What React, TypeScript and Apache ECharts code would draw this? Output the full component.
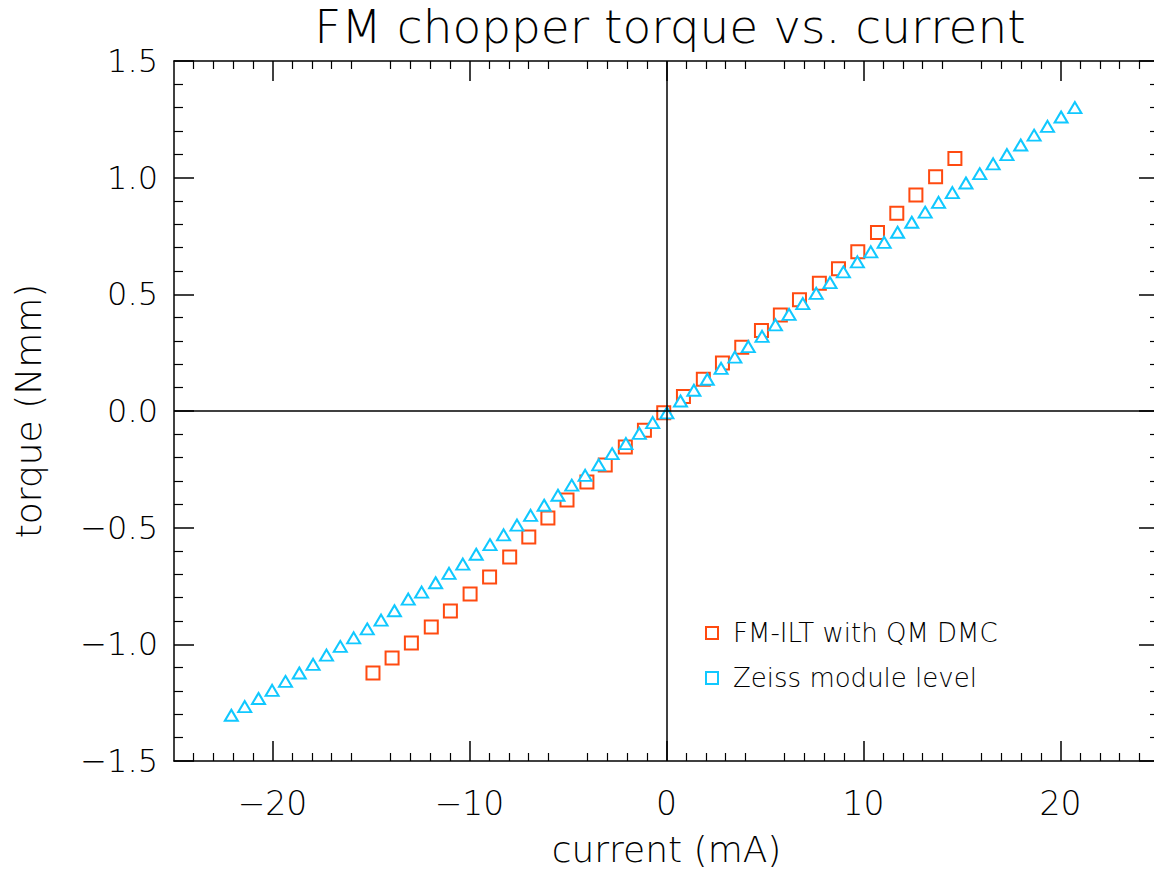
import React, { useEffect, useRef } from "react";
import * as echarts from "echarts";

const fmCurrent = [-14.9, -13.93, -12.95, -11.94, -10.97, -9.97, -8.98, -7.96, -6.99, -6.02, -5.05, -4.04, -3.11, -2.09, -1.12, -0.14, 0.86, 1.87, 2.84, 3.82, 4.82, 5.78, 6.75, 7.76, 8.73, 9.71, 10.71, 11.69, 12.66, 13.66, 14.64];
const fmTorque = [-1.123, -1.059, -0.994, -0.926, -0.857, -0.784, -0.711, -0.626, -0.54, -0.459, -0.381, -0.304, -0.231, -0.154, -0.083, -0.007, 0.062, 0.136, 0.206, 0.273, 0.345, 0.411, 0.477, 0.548, 0.61, 0.683, 0.765, 0.848, 0.926, 1.004, 1.082];

const zeissCurrent = [-22.09, -21.41, -20.71, -20.02, -19.34, -18.64, -17.94, -17.26, -16.56, -15.88, -15.19, -14.49, -13.81, -13.11, -12.43, -11.72, -11.04, -10.34, -9.66, -8.96, -8.27, -7.59, -6.9, -6.21, -5.51, -4.81, -4.13, -3.44, -2.76, -2.06, -1.38, -0.7, 0.02, 0.71, 1.39, 2.07, 2.77, 3.47, 4.15, 4.85, 5.53, 6.22, 6.92, 7.6, 8.3, 8.98, 9.69, 10.37, 11.05, 11.73, 12.45, 13.13, 13.81, 14.51, 15.2, 15.9, 16.58, 17.28, 17.98, 18.66, 19.34, 20.03, 20.73];
const zeissTorque = [-1.304, -1.267, -1.232, -1.197, -1.159, -1.123, -1.086, -1.046, -1.009, -0.972, -0.934, -0.896, -0.856, -0.806, -0.776, -0.736, -0.696, -0.656, -0.614, -0.573, -0.531, -0.489, -0.447, -0.404, -0.361, -0.318, -0.276, -0.231, -0.183, -0.14, -0.096, -0.05, -0.008, 0.043, 0.089, 0.136, 0.183, 0.231, 0.276, 0.32, 0.369, 0.414, 0.46, 0.504, 0.55, 0.596, 0.639, 0.682, 0.723, 0.766, 0.809, 0.852, 0.894, 0.936, 0.977, 1.017, 1.059, 1.099, 1.14, 1.182, 1.22, 1.26, 1.3];

const xMajorTicks = [-20, -10, 0, 10, 20];
const seriesNames = ["FM-ILT with QM DMC", "Zeiss module level"];
const seriesColors = ["#ff4a10", "#10c8ff"];

const FONT = "'DejaVu Sans', 'Liberation Sans', sans-serif";
const FW = 200;

const fmt = (v: number, d: number) => {
  const s = Math.abs(v).toFixed(d);
  return v < 0 ? "\u2212" + s : s;
};

export default function App() {
  const ref = useRef<HTMLDivElement>(null);
  useEffect(() => {
    document.body.style.margin = "0";
    const chart = echarts.init(ref.current!, null, { renderer: "svg" });
    const axisLine = { show: true, onZero: false, lineStyle: { color: "#000", width: 1.5 } };
    const xBase = (pos: "bottom" | "top", labels: boolean) => ({
      type: "value",
      position: pos,
      min: -25,
      max: 25,
      interval: 5,
      axisLine,
      splitLine: { show: false },
      axisTick: { show: true, inside: true, length: 20, customValues: xMajorTicks, lineStyle: { color: "#000", width: 1.5 } },
      minorTick: { show: true, splitNumber: 5, length: 8, lineStyle: { color: "#000", width: 1.2 } },
      axisLabel: labels
        ? { show: true, customValues: xMajorTicks, margin: 26, fontSize: 33, fontWeight: FW, color: "#000", fontFamily: FONT, formatter: (v: number) => fmt(v, 0) }
        : { show: false },
      name: labels ? "current (mA)" : "",
      nameLocation: "middle",
      nameGap: 70,
      nameTextStyle: { fontSize: 36, fontWeight: FW, color: "#000", fontFamily: FONT },
    });
    const yBase = (pos: "left" | "right", labels: boolean) => ({
      type: "value",
      position: pos,
      min: -1.5,
      max: 1.5,
      interval: 0.5,
      axisLine,
      splitLine: { show: false },
      axisTick: { show: true, inside: true, length: 20, lineStyle: { color: "#000", width: 1.5 } },
      minorTick: { show: true, splitNumber: 5, length: 9, lineStyle: { color: "#000", width: 1.2 } },
      axisLabel: labels
        ? { show: true, margin: 16, fontSize: 32, fontWeight: FW, color: "#000", fontFamily: FONT, formatter: (v: number) => fmt(v, 1) }
        : { show: false },
      name: labels ? "torque (Nmm)" : "",
      nameLocation: "middle",
      nameGap: 128,
      nameRotate: 90,
      nameTextStyle: { fontSize: 36, fontWeight: FW, color: "#000", fontFamily: FONT },
    });
    chart.setOption({
      animation: false,
      backgroundColor: "#fff",
      title: {
        text: "FM chopper torque vs. current",
        left: 665,
        textAlign: "center",
        top: -2,
        textStyle: { fontSize: 47, fontWeight: FW, color: "#000", fontFamily: FONT },
      },
      grid: { left: 174, width: 985, top: 61, height: 700, outerBoundsMode: "none", containLabel: false },
      legend: {
        orient: "vertical",
        left: 700,
        top: 615,
        itemGap: 19,
        itemWidth: 12,
        itemHeight: 12,
        textStyle: { fontSize: 26, fontWeight: FW, color: "#000", fontFamily: FONT, padding: [0, 0, 0, 10] },
        data: seriesNames.map((n) => ({ name: n, icon: "emptyRect" })),
      },
      xAxis: [xBase("bottom", true), xBase("top", false)],
      yAxis: [yBase("left", true), yBase("right", false)],
      series: [
        {
          name: seriesNames[0],
          type: "scatter",
          symbol: "emptyRect",
          symbolSize: 13,
          itemStyle: { color: seriesColors[0], borderColor: seriesColors[0], borderWidth: 2, opacity: 1 },
          data: fmCurrent.map((x, i) => [x, fmTorque[i]]),
          markLine: {
            silent: true,
            symbol: ["none", "none"],
            label: { show: false },
            lineStyle: { color: "#000", type: "solid", width: 1.5 },
            data: [{ xAxis: 0 }, { yAxis: 0 }],
          },
          z: 3,
        },
        {
          name: seriesNames[1],
          type: "scatter",
          symbol: "emptyTriangle",
          symbolSize: [13, 11],
          itemStyle: { color: seriesColors[1], borderColor: seriesColors[1], borderWidth: 2, opacity: 1 },
          data: zeissCurrent.map((x, i) => [x, zeissTorque[i]]),
          z: 4,
        },
      ],
    });
    return () => chart.dispose();
  }, []);
  return <div ref={ref} style={{ width: 1154, height: 869 }} />;
}
